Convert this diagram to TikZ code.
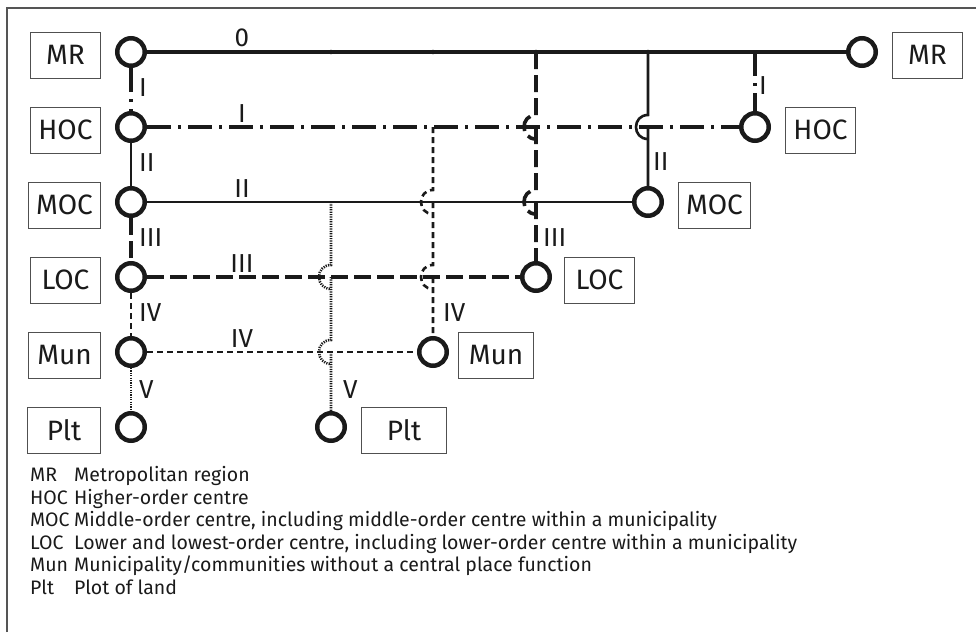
\documentclass[tikz,border=0pt]{standalone}
\usepackage{fontspec}
\setmainfont{Fira Sans}
\definecolor{ink}{HTML}{1A1A1A}
\definecolor{boxc}{HTML}{505050}
\definecolor{framec}{HTML}{555555}
\tikzset{
 hub/.style={circle, draw=ink, line width=4.5pt, minimum size=27.5pt, inner sep=0pt, fill=white},
 lbox/.style={draw=boxc, line width=1pt, minimum height=46pt, inner sep=0pt, text=ink, font=\fontsize{28}{30}\selectfont},
 num/.style={text=ink, font=\fontsize{26}{27}\selectfont, inner sep=0pt},
 lz/.style={draw=ink, line width=3.8pt},
 lone/.style={draw=ink, line width=4pt, dash pattern=on 24pt off 7pt on 3pt off 7pt},
 ltwo/.style={draw=ink, line width=2.6pt},
 lthree/.style={draw=ink, line width=3.6pt, dash pattern=on 17pt off 6pt},
 lfour/.style={draw=ink, line width=2.6pt, dash pattern=on 6pt off 4pt},
 lfive/.style={draw=ink, line width=2.6pt, dash pattern=on 1.2pt off 1.2pt},
 legend/.style={font=\fontsize{19.5}{20}\selectfont, anchor=base west, inner sep=0pt, text=ink},
 frame/.style={draw=framec, line width=1.2pt}
}
\begin{document}
\begin{tikzpicture}[x=1pt,y=-1pt]
\useasboundingbox (0,0) rectangle (976,632);
\draw[frame] (7,632) -- (7,8) -- (976,8);

% hubs
\node[hub] (mrL) at (131,52) {};
\node[hub] (hocL) at (131,127) {};
\node[hub] (mocL) at (131,202) {};
\node[hub] (locL) at (131,277) {};
\node[hub] (munL) at (131,352) {};
\node[hub] (pltL) at (131,427) {};
\node[hub] (mrR) at (862,52) {};
\node[hub] (hocR) at (755,127) {};
\node[hub] (mocR) at (648,202) {};
\node[hub] (locR) at (536,277) {};
\node[hub] (munR) at (433,352) {};
\node[hub] (pltR) at (331,427) {};

% boxes
\node[lbox, minimum width=70pt, anchor=east] (bMRl) at (101,55) {MR};
\node[lbox, minimum width=70pt, anchor=east] (bHOCl) at (101,130) {HOC};
\node[lbox, minimum width=72pt, anchor=east] (bMOCl) at (101,205) {MOC};
\node[lbox, minimum width=70pt, anchor=east] (bLOCl) at (101,280) {LOC};
\node[lbox, minimum width=72pt, anchor=east] (bMunl) at (101,355) {Mun};
\node[lbox, minimum width=73pt, anchor=east] (bPltl) at (101,430) {Plt};
\node[lbox, minimum width=70pt, anchor=west] (bMRr) at (892,55) {MR};
\node[lbox, minimum width=70pt, anchor=west] (bHOCr) at (785,130) {HOC};
\node[lbox, minimum width=72pt, anchor=west] (bMOCr) at (678,205) {MOC};
\node[lbox, minimum width=70pt, anchor=west] (bLOCr) at (564,280) {LOC};
\node[lbox, minimum width=75pt, anchor=west] (bMunr) at (458,355) {Mun};
\node[lbox, minimum width=85pt, anchor=west] (bPltr) at (361,430) {Plt};

% horizontal lines
\draw[lz] (mrL) -- (mrR);
\draw[lone] (hocL) -- (hocR);
\draw[ltwo] (mocL) -- (mocR);
\draw[lthree] (locL) -- (locR);
\draw[lfour] (munL) -- (munR);

% left verticals
\draw[lone] (mrL) -- (hocL);
\draw[ltwo] (hocL) -- (mocL);
\draw[lthree] (mocL) -- (locL);
\draw[lfour] (locL) -- (munL);
\draw[lfive] (munL) -- (pltL);

% branch verticals
\coordinate (jI) at (755,52);
\coordinate (jII) at (648,52);
\coordinate (jIII) at (536,52);
\coordinate (jIV) at (433,127);
\coordinate (jV) at (331,202);
\draw[lone] (jI) -- (hocR);
\draw[ltwo] (jII) -- (648,115) .. controls (632,115) and (632,139) .. (648,139)
  (648,127) -- (mocR);
\draw[lthree] (jIII) -- (536,115) .. controls (520,115) and (520,139) .. (536,139)
  (536,127) -- (536,190) .. controls (520,190) and (520,214) .. (536,214)
  (536,202) -- (locR);
\draw[lfour] (jIV) -- (433,190) .. controls (417,190) and (417,214) .. (433,214)
  (433,202) -- (433,265) .. controls (417,265) and (417,289) .. (433,289)
  (433,277) -- (munR);
\draw[lfive] (jV) -- (331,265) .. controls (315,265) and (315,289) .. (331,289)
  (331,277) -- (331,340) .. controls (315,340) and (315,364) .. (331,364)
  (331,352) -- (pltR);

% junction dots on MR line
\foreach \xx in {331,433,536,648} \fill[ink] (\xx,52) circle[radius=2.3];

% line labels
\node[num, anchor=south] (n0) at (242,47.5) {0};
\node[num, anchor=south] (n1) at (242,122.5) {I};
\node[num, anchor=south] (n2) at (242,198) {II};
\node[num, anchor=south] (n3) at (242,273) {III};
\node[num, anchor=south] (n4) at (242,348) {IV};
\node[num, anchor=west] (v1) at (139,88) {I};
\node[num, anchor=west] (v2) at (139,163) {II};
\node[num, anchor=west] (v3) at (139,238) {III};
\node[num, anchor=west] (v4) at (139,313) {IV};
\node[num, anchor=west] (v5) at (139,390) {V};
\node[num, anchor=west] (r1) at (759,86) {I};
\node[num, anchor=west] (r2) at (653,162) {II};
\node[num, anchor=west] (r3) at (543,238) {III};
\node[num, anchor=west] (r4) at (443,313) {IV};
\node[num, anchor=west] (r5) at (343,390) {V};

% legend
\node[legend] (a1) at (30,481.5) {MR};
\node[legend] (d1) at (74,481.5) {Metropolitan region};
\node[legend] (a2) at (30,504) {HOC};
\node[legend] (d2) at (74,504) {Higher-order centre};
\node[legend] (a3) at (30,526.5) {MOC};
\node[legend] (d3) at (74,526.5) {Middle-order centre, including middle-order centre within a municipality};
\node[legend] (a4) at (30,549) {LOC};
\node[legend] (d4) at (74,549) {Lower and lowest-order centre, including lower-order centre within a municipality};
\node[legend] (a5) at (30,571.5) {Mun};
\node[legend] (d5) at (74,571.5) {Municipality/communities without a central place function};
\node[legend] (a6) at (30,594) {Plt};
\node[legend] (d6) at (74,594) {Plot of land};
\end{tikzpicture}
\end{document}
